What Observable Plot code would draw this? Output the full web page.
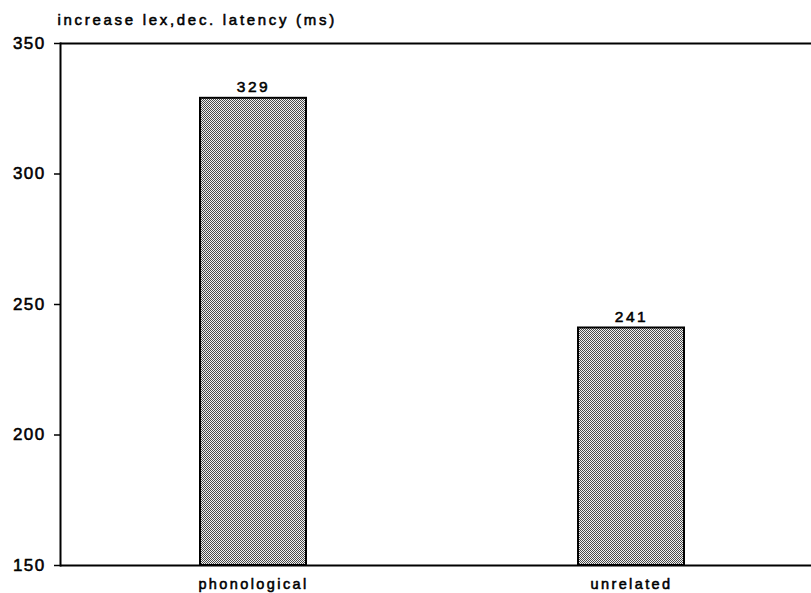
<!DOCTYPE html>
<html>
<head>
<meta charset="utf-8">
<script src="https://cdn.jsdelivr.net/npm/d3@7"></script>
<script src="https://cdn.jsdelivr.net/npm/@observablehq/plot@0.6"></script>
<style>
  body { margin: 0; background: #fff; }
  svg { font-family: "Liberation Sans", Arial, sans-serif; }
  svg text { font-weight: normal; stroke: #000; stroke-width: 0.55px; }
  g[aria-label="y-axis tick label"] text { font-size: 17px; letter-spacing: 1.4px; }
  g[aria-label="x-axis tick label"] text { font-size: 14.5px; letter-spacing: 2.4px; }
  g.vals text { font-size: 15.5px; letter-spacing: 2.6px; }
  g.title text { font-size: 15px; letter-spacing: 2.7px; }
</style>
</head>
<body>
<div id="chart"></div>
<script>
const categories = ["phonological", "unrelated"];
const values = [329, 241];
const yTicks = [150, 200, 250, 300, 350];
const yDomain = [150, 350];
const titleText = "increase lex,dec. latency (ms)";

const data = categories.map((c, i) => ({category: c, value: values[i]}));

const chart = Plot.plot({
  width: 811,
  height: 593,
  marginLeft: 60,
  marginRight: 0,
  marginTop: 43,
  marginBottom: 28,
  style: {background: "#fff", color: "#000", overflow: "visible"},
  x: {domain: categories, paddingInner: 0.72, paddingOuter: 0.353, align: 0.524, label: null},
  y: {domain: yDomain, label: null},
  marks: [
    Plot.barY(data, {x: "category", y1: yDomain[0], y2: "value", fill: "url(#stip)", stroke: "#000", strokeWidth: 2}),
    Plot.ruleY([yDomain[1]], {stroke: "#000", strokeWidth: 2}),
    Plot.ruleY([yDomain[0]], {stroke: "#000", strokeWidth: 2}),
    Plot.frame({anchor: "left", stroke: "#000", strokeWidth: 2}),
    Plot.axisY({ticks: yTicks, tickSize: 6, tickPadding: 9, tickFormat: d => String(d), strokeWidth: 1.5}),
    Plot.axisX({tickSize: 0, tickPadding: 13}),
    Plot.text(data, {x: "category", y: "value", text: d => String(d.value), lineAnchor: "bottom", dy: -6, className: "vals"}),
    Plot.text([titleText], {frameAnchor: "top-left", textAnchor: "start", lineAnchor: "bottom", dx: -3, dy: -19, className: "title"})
  ]
});

const svg = d3.select(chart);
const defs = svg.insert("defs", ":first-child");
const pat = defs.append("pattern").attr("id", "stip").attr("patternUnits", "userSpaceOnUse").attr("width", 2).attr("height", 2);
pat.append("rect").attr("width", 2).attr("height", 2).attr("fill", "#f2f2f2");
pat.append("rect").attr("width", 1).attr("height", 1).attr("fill", "#4a4a4a");
pat.append("rect").attr("x", 1).attr("y", 1).attr("width", 1).attr("height", 1).attr("fill", "#4a4a4a");

document.getElementById("chart").appendChild(chart);
</script>
</body>
</html>
